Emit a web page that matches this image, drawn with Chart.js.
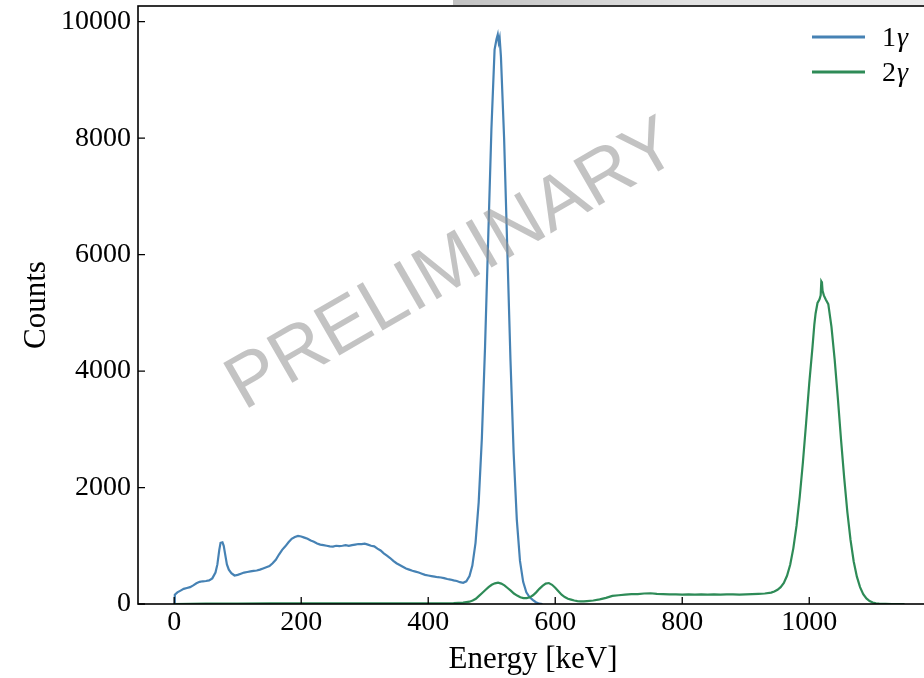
<!DOCTYPE html>
<html><head><meta charset="utf-8">
<script src="https://cdn.jsdelivr.net/npm/chart.js@4/dist/chart.umd.min.js"></script>
<style>
html,body{margin:0;padding:0;background:#fff;overflow:hidden;width:924px;height:678px;}
#wrap{position:absolute;left:0;top:0;width:940px;height:678px;}
#bar{position:absolute;left:453px;top:0;width:471px;height:5px;background:linear-gradient(to right,#c2c2c2,#e2e2e2 50%,#ececec);z-index:2}
</style></head><body>
<div id="wrap"><canvas id="c" width="940" height="678"></canvas></div>
<div id="bar"></div>
<script>
const seriesLabels = ['1γ', '2γ'];
const xTickValues = [0, 200, 400, 600, 800, 1000];
const yTickValues = [0, 2000, 4000, 6000, 8000, 10000];

const blueEnergy = [0,1,5,10,15,20,25,30,35,40,45,50,55,60,65,
  68,71,73,76,78,80,83,86,90,
  95,100,105,110,115,120,125,130,135,140,145,150,155,160,165,170,175,180,185,190,195,
  200,205,210,215,220,225,230,235,240,245,250,255,260,265,270,275,280,285,290,295,
  300,305,310,315,320,325,330,335,340,345,350,355,360,365,370,375,380,385,390,395,
  400,405,410,415,420,425,430,435,440,445,450,455,460,465,
  469.5,474.5,479.5,484.5,489.5,494.5,499.5,504.5,
  507.5,509.5,511,512.5,514.5,
  519.5,524.5,529.5,534.5,539.5,544.5,549.5,554.5,559.5,564.5,569.5,575,580];
const blueCounts = [0,160,200,230,260,275,290,320,355,380,390,395,405,440,540,
  680,930,1050,1060,1000,870,680,590,530,
  490,500,520,540,550,560,570,575,590,610,630,650,700,760,850,930,990,1060,1120,1150,1170,
  1160,1140,1120,1090,1070,1040,1020,1010,1000,990,985,1000,995,1000,1010,1000,1010,1020,1030,1030,
  1035,1020,1000,990,950,920,870,830,790,740,700,670,640,610,590,570,555,540,520,500,
  490,480,470,460,455,445,430,420,405,395,375,365,390,480,
  660,1050,1750,2850,4420,6300,8150,9520,
  9700,9780,9650,9720,9400,
  8000,6100,4200,2600,1450,740,380,200,120,70,30,5,0];

const greenEnergy = [0,50,100,150,200,250,300,350,400,440,455,
  465,470,475,480,485,490,495,500,505,510,515,520,525,530,535,540,545,550,555,560,
  565,570,575,580,585,590,595,600,605,610,615,620,625,630,635,640,
  645,
  650,660,670,680,690,700,710,720,730,740,750,760,770,780,790,800,810,820,830,840,
  850,860,870,880,890,900,910,920,930,940,
  945,950,955,960,965,970,975,980,985,990,995,1000,1005,
  1008,1010,1013,1016,1018,1019,1020,1021,1023,1026,
  1030,1035,1040,1045,1050,1055,1060,1065,1070,1075,1080,1085,1090,1095,1100,1105,1110,
  1120,1130,1150];
const greenCounts = [0,5,8,10,12,10,12,10,12,15,25,
  40,60,90,140,190,240,290,330,355,365,350,320,275,230,180,145,115,100,100,115,
  150,200,260,310,350,360,330,280,220,160,120,90,75,60,50,45,
  45,
  50,60,80,105,140,150,160,170,170,180,185,175,170,165,165,160,165,160,165,160,
  165,160,165,165,160,165,170,175,180,195,
  215,245,290,360,485,675,960,1345,1840,2430,3100,3790,4400,
  4800,4990,5170,5230,5300,5540,5520,5380,5300,5230,
  5150,4760,4200,3540,2830,2170,1580,1100,730,470,290,170,95,50,25,12,5,
  2,0,0];

const BLUE = 'rgb(70,130,180)';
const GREEN = 'rgb(46,139,87)';
const SERIF = '"Liberation Serif", "DejaVu Serif", serif';

const toPts = (xs, ys) => xs.map((x, i) => ({x: x, y: ys[i]}));

const decor = {
  id: 'decor',
  afterDraw(chart) {
    const ctx = chart.ctx;
    const a = chart.chartArea;
    const xs = chart.scales.x, ys = chart.scales.y;
    ctx.save();
    // watermark
    ctx.save();
    ctx.translate(453, 266);
    ctx.rotate(-30 * Math.PI / 180);
    ctx.font = '75px "Liberation Sans", Arial, sans-serif';
    ctx.fillStyle = 'rgba(145,145,145,0.55)';
    ctx.textAlign = 'center';
    ctx.textBaseline = 'middle';
    ctx.fillText('PRELIMINARY', 0, 0);
    ctx.restore();
    // frame
    ctx.strokeStyle = '#000';
    ctx.lineWidth = 1.6;
    ctx.strokeRect(a.left, a.top, a.right - a.left, a.bottom - a.top);
    // inward ticks
    ctx.lineWidth = 1.3;
    ctx.beginPath();
    xs.ticks.forEach(t => {
      const px = xs.getPixelForValue(t.value);
      ctx.moveTo(px, a.bottom); ctx.lineTo(px, a.bottom - 7);
    });
    ys.ticks.forEach(t => {
      const py = ys.getPixelForValue(t.value);
      ctx.moveTo(a.left, py); ctx.lineTo(a.left + 7, py);
    });
    ctx.stroke();
    // legend
    const items = chart.data.datasets.slice().sort((p, q) => p.legendIndex - q.legendIndex);
    items.forEach((ds, i) => {
      const y = 37 + i * 35;
      ctx.strokeStyle = ds.borderColor;
      ctx.lineWidth = 3;
      ctx.beginPath(); ctx.moveTo(812, y); ctx.lineTo(865, y); ctx.stroke();
      ctx.fillStyle = '#000';
      ctx.textBaseline = 'middle';
      ctx.textAlign = 'left';
      ctx.font = '28px ' + SERIF;
      const first = ds.label.slice(0, 1), rest = ds.label.slice(1);
      ctx.fillText(first, 882, y + 2);
      const w = ctx.measureText(first).width;
      ctx.font = 'italic 28px ' + SERIF;
      ctx.fillText(rest, 882 + w + 1, y + 2);
    });
    ctx.restore();
  }
};

new Chart(document.getElementById('c'), {
  type: 'line',
  data: {
    datasets: [
      {label: seriesLabels[0], legendIndex: 0, order: 2, data: toPts(blueEnergy, blueCounts),
       borderColor: BLUE, borderWidth: 2.2, pointRadius: 0, tension: 0, fill: false},
      {label: seriesLabels[1], legendIndex: 1, order: 1, data: toPts(greenEnergy, greenCounts),
       borderColor: GREEN, borderWidth: 2.2, pointRadius: 0, tension: 0, fill: false}
    ]
  },
  options: {
    responsive: false,
    animation: false,
    layout: {padding: {top: 6, right: 12, left: 0, bottom: 0}},
    plugins: {legend: {display: false}, tooltip: {enabled: false}},
    scales: {
      x: {
        type: 'linear', min: -57, max: 1187,
        afterBuildTicks: s => { s.ticks = xTickValues.map(v => ({value: v})); },
        afterFit: s => { s.height = 74; s.paddingLeft = 0; s.paddingRight = 0; },
        grid: {display: false, drawTicks: false},
        border: {display: false},
        ticks: {color: '#000', font: {family: SERIF, size: 28}, padding: 2, maxRotation: 0,
                callback: v => String(v)},
        title: {display: true, text: 'Energy [keV]', color: '#000',
                font: {family: SERIF, size: 31}, padding: {top: 0, bottom: 0}}
      },
      y: {
        type: 'linear', min: 0, max: 10270,
        afterBuildTicks: s => { s.ticks = yTickValues.map(v => ({value: v})); },
        afterFit: s => { s.width = 138; s.paddingTop = 0; s.paddingBottom = 0; },
        grid: {display: false, drawTicks: false},
        border: {display: false},
        ticks: {color: '#000', font: {family: SERIF, size: 28}, padding: 7,
                callback: v => String(v)},
        title: {display: true, text: 'Counts', color: '#000',
                font: {family: SERIF, size: 31}, padding: {top: 18, bottom: 0}}
      }
    }
  },
  plugins: [decor]
});
</script>
</body></html>
